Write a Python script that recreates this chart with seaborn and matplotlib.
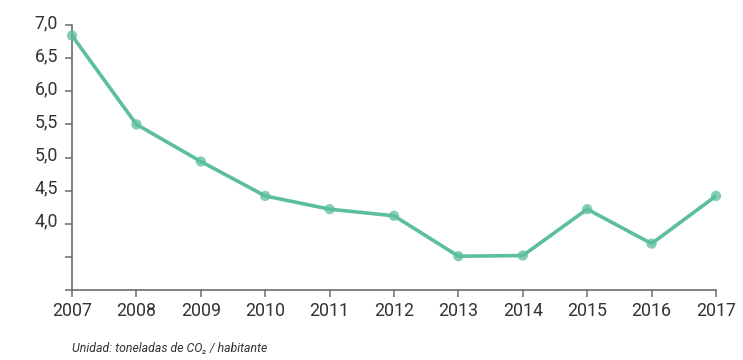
import matplotlib
matplotlib.use('Agg')
import matplotlib.pyplot as plt
import matplotlib.transforms as mtrans
import seaborn as sns
import pandas as pd

# data
years = [2007, 2008, 2009, 2010, 2011, 2012, 2013, 2014, 2015, 2016, 2017]
co2 = [6.84, 5.50, 4.94, 4.42, 4.22, 4.12, 3.51, 3.52, 4.22, 3.70, 4.42]
y_ticks = [3.0, 3.5, 4.0, 4.5, 5.0, 5.5, 6.0, 6.5, 7.0]
y_labels = ['', '', '4,0', '4,5', '5,0', '5,5', '6,0', '6,5', '7,0']
note = 'Unidad: toneladas de CO\u2082 / habitante'

df = pd.DataFrame({'year': years, 'co2': co2})

sns.set_style('white')
plt.rcParams['font.family'] = ['Roboto', 'DejaVu Sans']

green = '#5bbf9a'
axis_col = '#6b6b6b'
text_col = '#333333'

fig = plt.figure(figsize=(7.43, 3.60), dpi=100)
ax = fig.add_axes([72/743, 70/360, (716-72)/743, (290-25)/360])

sns.lineplot(data=df, x='year', y='co2', ax=ax, color=green, linewidth=2.6)
ax.scatter(df['year'], df['co2'], s=55, color=green, alpha=0.75,
           edgecolor='none', zorder=3, clip_on=False)

ax.set_xlim(2007, 2017)
ax.set_ylim(3.0, 7.0)
ax.set_xticks(years)
ax.set_xticklabels([str(y) for y in years])
ax.set_yticks(y_ticks)
ax.set_yticklabels(y_labels)
ax.set_xlabel('')
ax.set_ylabel('')

for s in ['top', 'right']:
    ax.spines[s].set_visible(False)
for s in ['left', 'bottom']:
    ax.spines[s].set_color(axis_col)
    ax.spines[s].set_linewidth(1.2)

ax.tick_params(axis='both', which='both', length=5, width=1.1, color=axis_col,
               labelsize=12.8, labelcolor=text_col, left=True, bottom=True)
ax.tick_params(axis='x', pad=4)
ax.tick_params(axis='y', pad=5)
shift = mtrans.ScaledTranslation(0, 4/100, fig.dpi_scale_trans)
for lbl in ax.get_yticklabels():
    lbl.set_transform(lbl.get_transform() + shift)

fig.text(72/743, 1 - 349/360, note, fontsize=8.8, style='italic',
         color=text_col, ha='left', va='center')

fig.savefig('out.png', dpi=100)
